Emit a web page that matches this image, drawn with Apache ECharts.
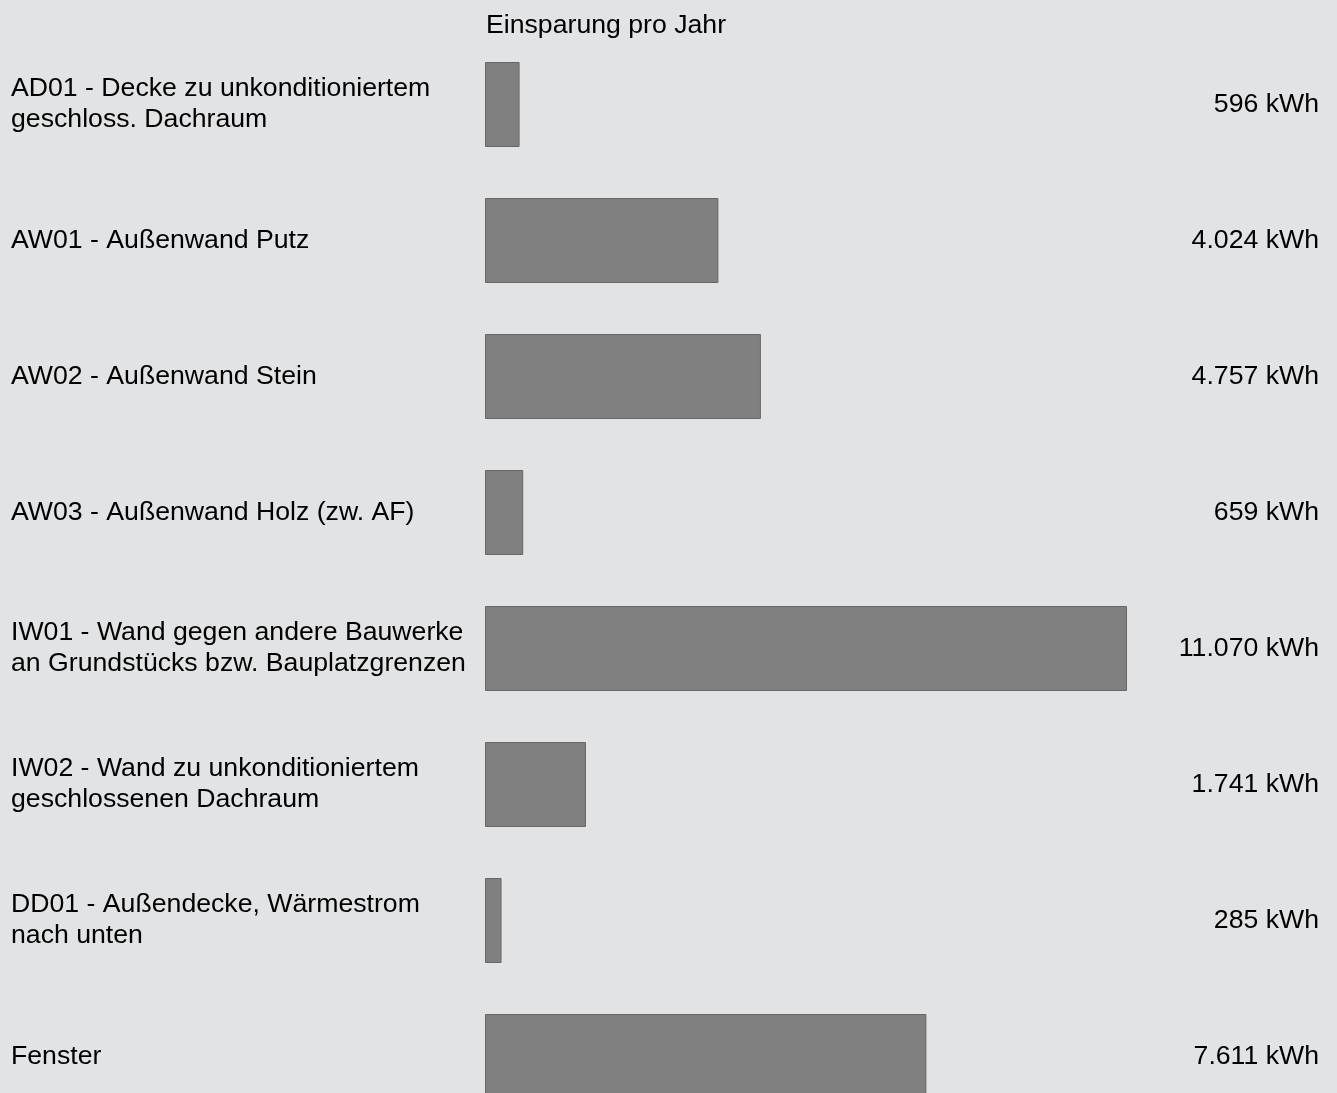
<!DOCTYPE html>
<html>
<head>
<meta charset="utf-8">
<title>Einsparung pro Jahr</title>
<script src="https://cdn.jsdelivr.net/npm/echarts@6/dist/echarts.min.js"></script>
<style>
  html, body { margin: 0; padding: 0; background: #e2e3e5; overflow: hidden; }
  /* the last row runs past the bottom edge of the window */
  #chart { width: 1337px; height: 1125px; }
</style>
</head>
<body>
<div id="chart"></div>
<script>
// Building components and their yearly energy savings (kWh)
const components = [
  'AD01 - Decke zu unkonditioniertem\ngeschloss. Dachraum',
  'AW01 - Außenwand Putz',
  'AW02 - Außenwand Stein',
  'AW03 - Außenwand Holz (zw. AF)',
  'IW01 - Wand gegen andere Bauwerke\nan Grundstücks bzw. Bauplatzgrenzen',
  'IW02 - Wand zu unkonditioniertem\ngeschlossenen Dachraum',
  'DD01 - Außendecke, Wärmestrom\nnach unten',
  'Fenster'
];
const savingsKWh = [596, 4024, 4757, 659, 11070, 1741, 285, 7611];
const chartTitle = 'Einsparung pro Jahr';
const unit = 'kWh';

// German number format with dot as thousands separator
function fmt(v) {
  return String(v).replace(/\B(?=(\d{3})+(?!\d))/g, '.') + ' ' + unit;
}
const valueLabels = savingsKWh.map(fmt);

const font = 'Liberation Sans';
const fontSize = 26.67;
const chart = echarts.init(document.getElementById('chart'), null, { renderer: 'canvas' });

chart.setOption({
  backgroundColor: '#e2e3e5',
  animation: false,
  textStyle: { fontFamily: font },
  title: {
    text: chartTitle,
    left: 481,
    top: 7,
    textStyle: { fontFamily: font, fontSize: fontSize, fontWeight: 'normal', color: '#000' }
  },
  grid: { left: 485, top: 36.5, width: 642, height: 1088, containLabel: false },
  xAxis: {
    type: 'value',
    min: 0,
    max: 11070,
    show: false
  },
  yAxis: [
    {
      type: 'category',
      data: components,
      inverse: true,
      position: 'left',
      axisLine: { show: false },
      axisTick: { show: false },
      splitLine: { show: false },
      axisLabel: {
        align: 'left',
        margin: 474,
        fontFamily: font,
        fontSize: fontSize,
        lineHeight: 31,
        padding: [6, 0, 0, 0],
        color: '#000'
      }
    },
    {
      type: 'category',
      data: valueLabels,
      inverse: true,
      position: 'right',
      axisLine: { show: false },
      axisTick: { show: false },
      splitLine: { show: false },
      axisLabel: {
        align: 'right',
        margin: 192,
        fontFamily: font,
        fontSize: fontSize,
        padding: [5, 0, 0, 0],
        color: '#000'
      }
    }
  ],
  series: [{
    type: 'bar',
    data: savingsKWh,
    yAxisIndex: 0,
    barWidth: 85,
    itemStyle: { color: '#808080', borderColor: '#666666', borderWidth: 1 },
    silent: true
  }]
});
</script>
</body>
</html>
